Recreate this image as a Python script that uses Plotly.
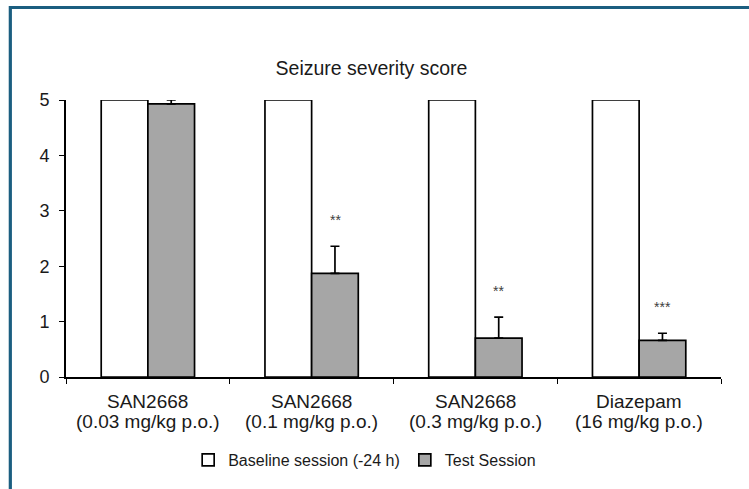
import plotly.graph_objects as go

names = ["SAN2668", "SAN2668", "SAN2668", "Diazepam"]
doses = ["(0.03 mg/kg p.o.)", "(0.1 mg/kg p.o.)", "(0.3 mg/kg p.o.)", "(16 mg/kg p.o.)"]
categories = [n + " " + d for n, d in zip(names, doses)]
baseline = [5, 5, 5, 5]
test = [4.93, 1.87, 0.70, 0.66]
test_err = [0.07, 0.49, 0.38, 0.13]
stars = ["", "**", "**", "***"]

FONT = "Liberation Sans, Arial, sans-serif"
TXT = "#1a1a1a"

fig = go.Figure()
fig.add_trace(go.Bar(
    x=categories, y=baseline, name="Baseline session (-24 h)",
    marker=dict(color="white", line=dict(color="black", width=1.7)),
))
fig.add_trace(go.Bar(
    x=categories, y=test, name="Test Session",
    marker=dict(color="#a6a6a6", line=dict(color="black", width=1.7)),
    error_y=dict(type="data", array=test_err, arrayminus=[0]*4, symmetric=False,
                 color="black", thickness=1.7, width=4.5),
    cliponaxis=False,
))

for c, v, e, s in zip(categories, test, test_err, stars):
    if s:
        fig.add_annotation(x=c, y=v + e, text=s, showarrow=False, xshift=23.5,
                           yshift=26, font=dict(size=14, color="#404040", family=FONT))

# two-line category labels
for c, n, d in zip(categories, names, doses):
    fig.add_annotation(x=c, y=0, yref="y", text=n, showarrow=False, yanchor="middle",
                       yshift=-24, font=dict(size=19, color=TXT, family=FONT))
    fig.add_annotation(x=c, y=0, yref="y", text=d, showarrow=False, yanchor="middle",
                       yshift=-44, font=dict(size=19, color=TXT, family=FONT))

# frame lines (top and left)
top = 1 + 92.5/277
fig.add_shape(type="line", xref="paper", yref="paper", x0=-0.085, x1=1.06,
              y0=top, y1=top, line=dict(color="#1b5e80", width=3.2))
fig.add_shape(type="line", xref="paper", yref="paper", x0=-0.085, x1=-0.085,
              y0=top + 0.005, y1=-112/277 - 0.01, line=dict(color="#1b5e80", width=3.2))

fig.update_layout(
    width=749, height=489,
    margin=dict(l=66, r=28, t=100, b=112),
    paper_bgcolor="white", plot_bgcolor="white",
    barmode="group", bargap=0.43, bargroupgap=0,
    font=dict(family=FONT, size=18, color=TXT),
    title=dict(text="Seizure severity score", x=0.496, xanchor="center",
               y=1 - 68/489, yanchor="middle", yref="container",
               font=dict(size=19.5, color=TXT, family=FONT)),
    showlegend=True,
    legend=dict(orientation="h", x=0.456, xanchor="center", y=-83/277, yanchor="middle",
                font=dict(size=16, color=TXT, family=FONT),
                itemwidth=30, tracegroupgap=0),
    xaxis=dict(showline=True, linecolor="black", linewidth=1.7, ticks="outside",
               tickson="boundaries", ticklen=5, tickcolor="black", tickwidth=1.3,
               showticklabels=False, showgrid=False),
    yaxis=dict(range=[0, 5], dtick=1, showline=True, linecolor="black", linewidth=1.7,
               ticks="outside", ticklen=5, tickcolor="black", tickwidth=1.3,
               ticklabelstandoff=6,
               tickfont=dict(size=18), showgrid=False, zeroline=False),
)

fig.write_html("out.html")
